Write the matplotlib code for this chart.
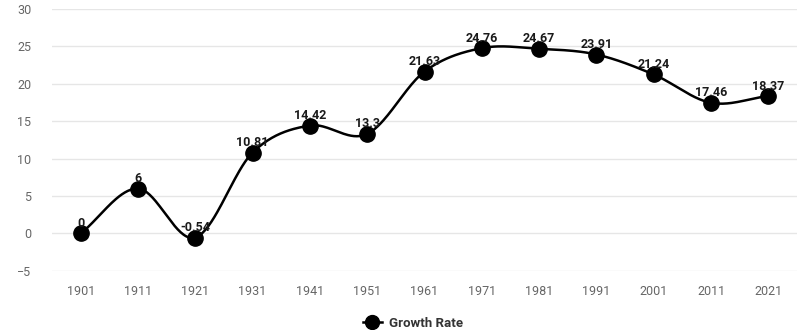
import numpy as np
import matplotlib.pyplot as plt
from matplotlib.lines import Line2D

plt.rcParams['font.family'] = ['Roboto', 'DejaVu Sans']

years = ['1901', '1911', '1921', '1931', '1941', '1951', '1961',
         '1971', '1981', '1991', '2001', '2011', '2021']
growth = [0, 6, -0.54, 10.81, 14.42, 13.3, 21.63,
          24.76, 24.67, 23.91, 21.24, 17.46, 18.37]
labels = ['0', '6', '-0.54', '10.81', '14.42', '13.3', '21.63',
          '24.76', '24.67', '23.91', '21.24', '17.46', '18.37']


def catmull_rom(x, y, n=40):
    # smooth curve through the points (cardinal spline)
    x = np.asarray(x, float)
    y = np.asarray(y, float)
    px = np.concatenate([[2 * x[0] - x[1]], x, [2 * x[-1] - x[-2]]])
    py = np.concatenate([[2 * y[0] - y[1]], y, [2 * y[-1] - y[-2]]])
    xs, ys = [], []
    t = np.linspace(0, 1, n)
    for i in range(1, len(px) - 2):
        for p, out in ((px, xs), (py, ys)):
            p0, p1, p2, p3 = p[i - 1], p[i], p[i + 1], p[i + 2]
            out.append(0.5 * ((2 * p1) + (-p0 + p2) * t
                              + (2 * p0 - 5 * p1 + 4 * p2 - p3) * t ** 2
                              + (-p0 + 3 * p1 - 3 * p2 + p3) * t ** 3))
    return np.concatenate(xs), np.concatenate(ys)


fig = plt.figure(figsize=(7.97, 3.30), dpi=100)
ax = fig.add_axes([52 / 797, 0.179, 1 - 52 / 797, 0.794])

xi = np.arange(len(years))
sx, sy = catmull_rom(xi, growth)
ax.plot(sx, sy, color='black', lw=1.8, zorder=3)
ax.plot(xi, growth, 'o', color='black', ms=11, zorder=4)

for x, y, s in zip(xi, growth, labels):
    ax.annotate(s, (x, y), xytext=(0, 2.5), textcoords='offset points',
                ha='center', va='bottom', fontsize=9, fontweight='semibold',
                color='#1a1a1a', zorder=5)

ax.set_xlim(-0.5, len(years) - 0.5)
ax.set_ylim(-5, 30)
ax.set_yticks(range(-5, 31, 5))
ax.set_xticks(xi)
ax.set_xticklabels(years)
ax.grid(axis='y', color='#e6e6e6', lw=1)
ax.set_axisbelow(True)
for sp in ax.spines.values():
    sp.set_visible(False)
ax.tick_params(length=0, colors='#666666', labelsize=9, pad=10)
ax.tick_params(axis='y', pad=15)

handle = Line2D([], [], color='black', lw=1.8, marker='o', ms=10)
leg = ax.legend([handle], ['Growth Rate'], loc='upper center',
                bbox_to_anchor=(0.485, -0.13), frameon=False,
                fontsize=9.5, handlelength=1.4, handletextpad=0.6)
for t in leg.get_texts():
    t.set_color('#333333')
    t.set_fontweight('semibold')

fig.savefig('out.png', dpi=100)
